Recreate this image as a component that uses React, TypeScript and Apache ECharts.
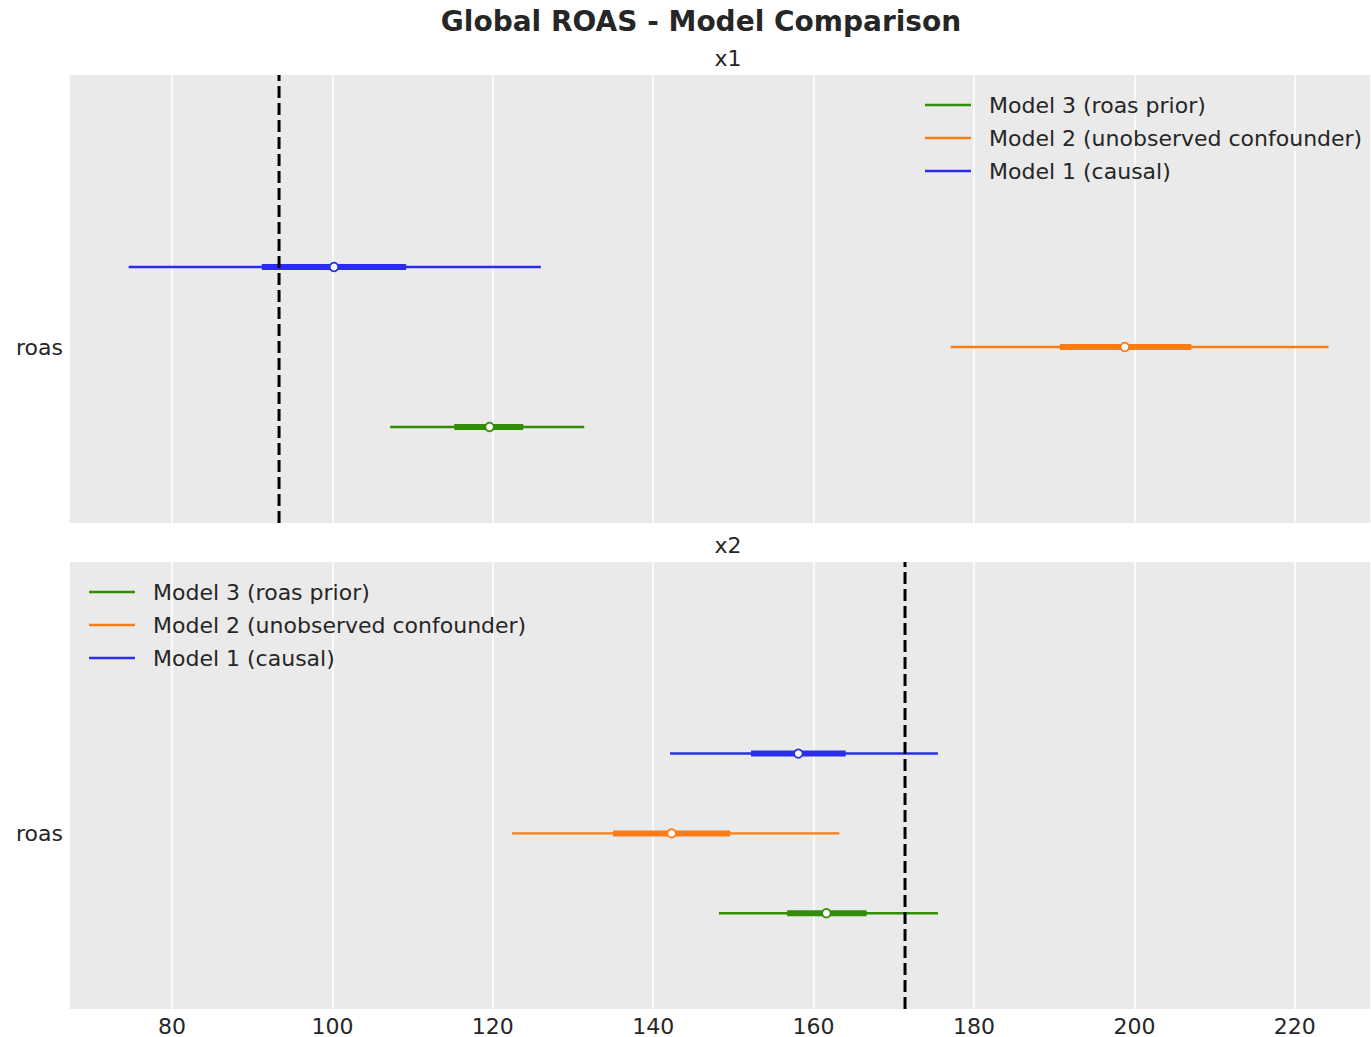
import React, { useEffect, useRef } from "react";
import * as echarts from "echarts";

const models = ["Model 1 (causal)", "Model 2 (unobserved confounder)", "Model 3 (roas prior)"];
const modelColors = ["#2a2eec", "#fa7c17", "#328c06"];
const panelTitles = ["x1", "x2"];
const yLabel = "roas";

// x1 channel
const x1Low = [74.6, 177.1, 107.2];
const x1High = [126.0, 224.2, 131.4];
const x1Q1 = [91.2, 190.7, 115.2];
const x1Q3 = [109.2, 207.1, 123.8];
const x1Median = [100.2, 198.8, 119.6];
// x2 channel
const x2Low = [142.1, 122.4, 148.2];
const x2High = [175.5, 163.2, 175.5];
const x2Q1 = [152.2, 135.0, 156.7];
const x2Q3 = [164.0, 149.6, 166.6];
const x2Median = [158.1, 142.3, 161.6];

const trueRoas = [93.35, 171.4];

const TEXT = "#262626";
const FONT = "DejaVu Sans";

export default function App() {
  const ref = useRef<HTMLDivElement>(null);
  useEffect(() => {
    if (!ref.current) return;
    const chart = echarts.init(ref.current, null, { renderer: "svg" });
    const panels = [
      { low: x1Low, high: x1High, q1: x1Q1, q3: x1Q3, med: x1Median },
      { low: x2Low, high: x2High, q1: x2Q1, q3: x2Q3, med: x2Median },
    ];
    const yMax = 5.6;
    const rowBase = 1.2;
    const rowY = (i: number) => rowBase + (models.length - 1 - i);
    const series: any[] = [];
    panels.forEach((p, pi) => {
      models.forEach((m, i) => {
        const y = rowY(i);
        const c = modelColors[i];
        series.push({
          type: "line", name: m, xAxisIndex: pi, yAxisIndex: pi, symbol: "none",
          data: [[p.low[i], y], [p.high[i], y]],
          lineStyle: { color: c, width: 2.4 }, itemStyle: { color: c }, z: 3,
        });
        series.push({
          type: "line", name: m, xAxisIndex: pi, yAxisIndex: pi, symbol: "none",
          data: [[p.q1[i], y], [p.q3[i], y]],
          lineStyle: { color: c, width: 6 }, itemStyle: { color: c }, z: 4,
        });
        series.push({
          type: "scatter", name: m, xAxisIndex: pi, yAxisIndex: pi,
          data: [[p.med[i], y]], symbol: "circle", symbolSize: 8.5,
          itemStyle: { color: "#ffffff", borderColor: c, borderWidth: 1.7, opacity: 1 }, z: 5,
        });
      });
      series.push({
        type: "line", name: "ref" + pi, xAxisIndex: pi, yAxisIndex: pi, symbol: "none",
        data: [[trueRoas[pi], 0], [trueRoas[pi], yMax]],
        lineStyle: { color: "#000000", width: 3, type: [12, 5] }, z: 6,
      });
    });
    const legendData = [2, 1, 0].map((i) => ({
      name: models[i], icon: "rect", itemStyle: { color: modelColors[i] },
    }));
    const legendCommon = {
      orient: "vertical", data: legendData, itemWidth: 46, itemHeight: 2.5, itemGap: 11,
      selectedMode: false,
      textStyle: { fontFamily: FONT, fontSize: 22, color: TEXT, lineHeight: 22, padding: [0, 0, 0, 13] },
    };
    const xCommon = (gi: number, showLabels: boolean) => ({
      type: "value", gridIndex: gi, min: 67.16, max: 229.5, splitNumber: 8,
      axisLine: { show: false }, axisTick: { show: false },
      axisLabel: {
        show: showLabels, fontFamily: FONT, fontSize: 22, color: TEXT, margin: 6,
        showMinLabel: false, showMaxLabel: false,
      },
      splitLine: { show: true, lineStyle: { color: "#ffffff", width: 1.5 } },
    });
    const yCommon = (gi: number) => ({
      type: "value", gridIndex: gi, min: 0, max: yMax,
      axisLine: { show: false }, axisTick: { show: false }, splitLine: { show: false },
      axisLabel: {
        show: true, customValues: [rowY(1)], formatter: () => yLabel,
        fontFamily: FONT, fontSize: 22, color: TEXT, margin: 6,
      },
    });
    chart.setOption({
      animation: false,
      backgroundColor: "#ffffff",
      title: [
        { text: "Global ROAS - Model Comparison", left: 696, top: 2, textAlign: "center",
          textStyle: { fontFamily: FONT, fontSize: 28, fontWeight: "bold", color: TEXT } },
        { text: panelTitles[0], left: 723, top: 42, textAlign: "center",
          textStyle: { fontFamily: FONT, fontSize: 22, fontWeight: "normal", color: TEXT } },
        { text: panelTitles[1], left: 723, top: 529, textAlign: "center",
          textStyle: { fontFamily: FONT, fontSize: 22, fontWeight: "normal", color: TEXT } },
      ],
      legend: [
        { ...legendCommon, left: 920, top: 89 },
        { ...legendCommon, left: 84, top: 576 },
      ],
      grid: [
        { left: 69, top: 75, width: 1302, height: 448, show: true, backgroundColor: "#eaeaea", borderWidth: 0 },
        { left: 69, top: 562, width: 1302, height: 447, show: true, backgroundColor: "#eaeaea", borderWidth: 0 },
      ],
      xAxis: [xCommon(0, false), xCommon(1, true)],
      yAxis: [yCommon(0), yCommon(1)],
      series,
    });
    return () => chart.dispose();
  }, []);
  return <div ref={ref} style={{ width: 1371, height: 1037, position: "absolute", left: 0, top: 0 }} />;
}
